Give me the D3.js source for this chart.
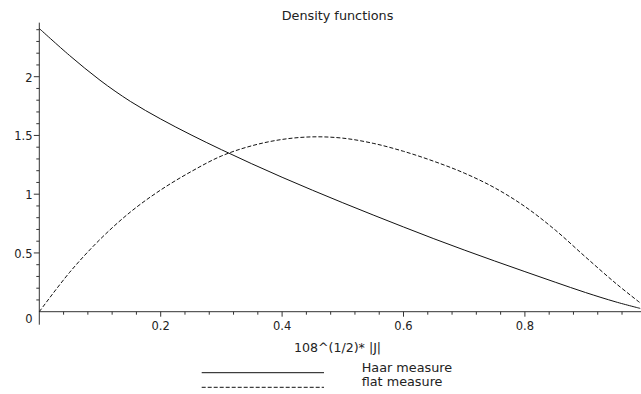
<!DOCTYPE html>
<html>
<head>
<meta charset="utf-8">
<script src="https://cdn.jsdelivr.net/npm/d3@7/dist/d3.min.js"></script>
<style>
  html, body { margin: 0; padding: 0; background: #fff; }
  svg { display: block; }
  text { font-family: "DejaVu Sans", sans-serif; fill: #222; }
</style>
</head>
<body>
<svg id="chart" width="641" height="394"></svg>
<script>
// ---- data ----
const xValues = [0, 0.05, 0.1, 0.15, 0.2, 0.25, 0.3, 0.35, 0.4, 0.45, 0.5, 0.55, 0.6, 0.65, 0.7, 0.75, 0.8, 0.85, 0.9, 0.95, 0.99];
const haarValues = [2.41, 2.18, 1.97, 1.79, 1.64, 1.505, 1.379, 1.259, 1.144, 1.034, 0.927, 0.823, 0.721, 0.621, 0.525, 0.432, 0.341, 0.251, 0.163, 0.083, 0.028];
const flatValues = [0, 0.335, 0.615, 0.848, 1.036, 1.192, 1.325, 1.412, 1.466, 1.488, 1.477, 1.433, 1.365, 1.28, 1.18, 1.055, 0.895, 0.695, 0.465, 0.24, 0.075];
const seriesNames = ["Haar measure", "flat measure"];
const xMajorTicks = [0.2, 0.4, 0.6, 0.8];
const xTickLabels = ["0.2", "0.4", "0.6", "0.8"];
const xMinorTicks = [0.04, 0.08, 0.12, 0.16, 0.24, 0.28, 0.32, 0.36, 0.44, 0.48, 0.52, 0.56, 0.64, 0.68, 0.72, 0.76, 0.84, 0.88, 0.92, 0.96];
const yMajorTicks = [0, 0.5, 1, 1.5, 2];
const yTickLabels = ["0", "0.5", "1", "1.5", "2"];
const yMinorTicks = [0.1, 0.2, 0.3, 0.4, 0.6, 0.7, 0.8, 0.9, 1.1, 1.2, 1.3, 1.4, 1.6, 1.7, 1.8, 1.9, 2.1, 2.2, 2.3, 2.4];
const titleText = "Density functions";
const xLabelText = "108^(1/2)* |J|";

// ---- layout ----
const svg = d3.select("#chart");
const x = d3.scaleLinear().domain([0, 1]).range([39.3, 646.3]);
const y = d3.scaleLinear().domain([0, 2.46]).range([311.7, 22.65]);
const axisColor = "#333";

// axes
const gx = svg.append("g").attr("transform", `translate(0,${y(0)})`);
gx.append("line").attr("x1", x(0)).attr("x2", 641).attr("y1", 0).attr("y2", 0)
  .attr("stroke", axisColor).attr("stroke-width", 1);
gx.selectAll("line.minor").data(xMinorTicks).join("line").attr("class", "minor")
  .attr("x1", d => x(d)).attr("x2", d => x(d)).attr("y1", 0).attr("y2", 3)
  .attr("stroke", axisColor);
gx.selectAll("line.major").data(xMajorTicks).join("line").attr("class", "major")
  .attr("x1", d => x(d)).attr("x2", d => x(d)).attr("y1", 0).attr("y2", 5)
  .attr("stroke", axisColor);
gx.selectAll("text").data(xMajorTicks).join("text")
  .attr("x", d => x(d)).attr("y", 18.6).attr("text-anchor", "middle")
  .attr("font-size", 11.5).text((d, i) => xTickLabels[i]);

const gy = svg.append("g").attr("transform", `translate(${x(0)},0)`);
gy.append("line").attr("x1", 0).attr("x2", 0).attr("y1", y(2.46)).attr("y2", y(0) + 13)
  .attr("stroke", axisColor).attr("stroke-width", 1);
gy.selectAll("line.minor").data(yMinorTicks).join("line").attr("class", "minor")
  .attr("x1", -3).attr("x2", 0).attr("y1", d => y(d)).attr("y2", d => y(d))
  .attr("stroke", axisColor);
gy.selectAll("line.major").data(yMajorTicks.filter(d => d > 0)).join("line").attr("class", "major")
  .attr("x1", -5.5).attr("x2", 0).attr("y1", d => y(d)).attr("y2", d => y(d))
  .attr("stroke", axisColor);
gy.selectAll("text").data(yMajorTicks).join("text")
  .attr("x", -6.8).attr("y", d => d === 0 ? y(d) + 11.5 : y(d) + 4.8)
  .attr("text-anchor", "end").attr("font-size", 11.5)
  .text((d, i) => yTickLabels[i]);

// curves
const line = d3.line().x(d => x(d[0])).y(d => y(d[1])).curve(d3.curveCatmullRom.alpha(0.5));
const haarData = xValues.map((v, i) => [v, haarValues[i]]);
const flatData = xValues.map((v, i) => [v, flatValues[i]]);
svg.append("path").attr("d", line(haarData)).attr("fill", "none")
  .attr("stroke", "#111").attr("stroke-width", 1);
svg.append("path").attr("d", line(flatData)).attr("fill", "none")
  .attr("stroke", "#111").attr("stroke-width", 1).attr("stroke-dasharray", "4,2");

// title & x label
svg.append("text").attr("x", 337.5).attr("y", 19.5).attr("text-anchor", "middle")
  .attr("font-size", 12.8).text(titleText);
svg.append("text").attr("x", 337.5).attr("y", 351.7).attr("text-anchor", "middle")
  .attr("font-size", 12.6).text(xLabelText);

// legend
const legend = svg.append("g");
const legY = [372.7, 387.3];
const legDash = [null, "4,2"];
legend.selectAll("line").data(seriesNames).join("line")
  .attr("x1", 201.7).attr("x2", 324).attr("y1", (d, i) => legY[i]).attr("y2", (d, i) => legY[i])
  .attr("stroke", "#111").attr("stroke-width", 1)
  .attr("stroke-dasharray", (d, i) => legDash[i]);
legend.selectAll("text").data(seriesNames).join("text")
  .attr("x", 361.7).attr("y", (d, i) => legY[i] - 0.3 - i * 0.8)
  .attr("font-size", 12.8).text(d => d);
</script>
</body>
</html>
